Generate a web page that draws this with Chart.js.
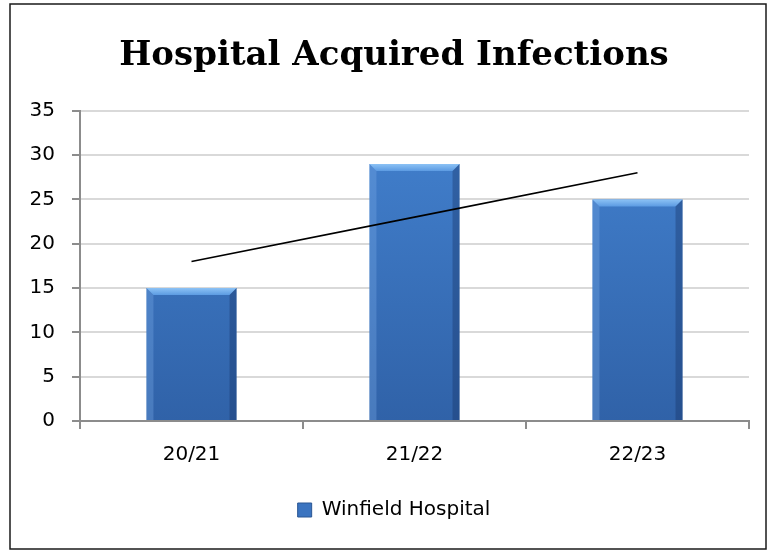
<!DOCTYPE html>
<html>
<head>
<meta charset="utf-8">
<title>Hospital Acquired Infections</title>
<script src="https://cdn.jsdelivr.net/npm/chart.js@4.4.1/dist/chart.umd.min.js"></script>
<style>
  html, body { margin: 0; padding: 0; background: #ffffff; }
  #wrap { width: 768px; height: 551px; }
</style>
</head>
<body>
<div id="wrap"><canvas id="chart" width="768" height="551"></canvas></div>
<script>
// Yearly counts of hospital acquired infections
const categories = ['20/21', '21/22', '22/23'];
const infections = [15, 29, 25];
// Linear trend through the yearly counts
const trendline = [18, 23, 28];
const yTicks = [0, 5, 10, 15, 20, 25, 30, 35];
const seriesName = 'Winfield Hospital';

const AXIS_GREY = '#8c8c8c';
const GRID_GREY = '#d9d9d9';
const TICK_FONT = { family: 'DejaVu Sans', size: 20 };

// Vertical blue gradient shared by all bars
function barFill(context) {
  const { chart } = context;
  const area = chart.chartArea;
  if (!area) return '#3a72bf';
  const g = chart.ctx.createLinearGradient(0, area.top, 0, area.bottom);
  g.addColorStop(0, '#4382d0');
  g.addColorStop(1, '#3062a8');
  return g;
}

// Bevelled edges on each bar: light top facet, lit left edge, shaded right edge
const bevelPlugin = {
  id: 'bevel',
  afterDatasetDraw(chart, args) {
    if (args.meta.type !== 'bar') return;
    const ctx = chart.ctx;
    ctx.save();
    args.meta.data.forEach(bar => {
      const { x, y, base, width } = bar.getProps(['x', 'y', 'base', 'width'], true);
      const l = x - width / 2, r = x + width / 2, t = y, b = base;
      const s = 7;
      // top facet
      const tg = ctx.createLinearGradient(0, t, 0, t + s);
      tg.addColorStop(0, '#8cc2f5');
      tg.addColorStop(1, '#5c9be2');
      ctx.fillStyle = tg;
      ctx.beginPath();
      ctx.moveTo(l, t); ctx.lineTo(r, t); ctx.lineTo(r - s, t + s); ctx.lineTo(l + s, t + s);
      ctx.closePath(); ctx.fill();
      // left facet
      ctx.fillStyle = 'rgba(120,170,230,0.35)';
      ctx.beginPath();
      ctx.moveTo(l, t); ctx.lineTo(l + s, t + s); ctx.lineTo(l + s, b); ctx.lineTo(l, b);
      ctx.closePath(); ctx.fill();
      // right facet
      ctx.fillStyle = 'rgba(20,45,95,0.35)';
      ctx.beginPath();
      ctx.moveTo(r, t); ctx.lineTo(r - s, t + s); ctx.lineTo(r - s, b); ctx.lineTo(r, b);
      ctx.closePath(); ctx.fill();
    });
    ctx.restore();
  }
};

// Centre the title and legend over the span from x=39 to the plot's right edge
const centreBlocksPlugin = {
  id: 'centreBlocks',
  afterLayout(chart) {
    if (chart.titleBlock) chart.titleBlock.left = 39;
    if (chart.legend) chart.legend.left = 39;
  }
};

// Thin frame around the whole chart
const framePlugin = {
  id: 'frame',
  afterDraw(chart) {
    const ctx = chart.ctx;
    ctx.save();
    ctx.strokeStyle = '#1a1a1a';
    ctx.lineWidth = 1.5;
    ctx.strokeRect(10, 4, 756, 545);
    ctx.restore();
  }
};

new Chart(document.getElementById('chart'), {
  data: {
    labels: categories,
    datasets: [
      {
        type: 'line',
        label: 'Linear trend',
        data: trendline,
        borderColor: '#000000',
        borderWidth: 1.6,
        pointRadius: 0,
        fill: false,
        tension: 0,
        order: 0
      },
      {
        type: 'bar',
        label: seriesName,
        data: infections,
        backgroundColor: barFill,
        borderWidth: 0,
        barPercentage: 0.404,
        categoryPercentage: 1.0,
        order: 1
      }
    ]
  },
  options: {
    responsive: false,
    devicePixelRatio: 1,
    animation: false,
    layout: { padding: { left: 10, right: 19, top: 0, bottom: 21 } },
    plugins: {
      title: {
        display: true,
        text: 'Hospital Acquired Infections',
        color: '#000000',
        font: { family: 'DejaVu Serif', size: 34, weight: 'bold', lineHeight: 1.2 },
        padding: { top: 36, bottom: 34 }
      },
      legend: {
        display: true,
        position: 'bottom',
        labels: {
          color: '#000000',
          font: TICK_FONT,
          boxWidth: 14,
          boxHeight: 14,
          padding: 10,
          generateLabels: () => [{
            text: seriesName,
            fillStyle: '#3b74c0',
            strokeStyle: '#2a5694',
            lineWidth: 1,
            datasetIndex: 1,
            hidden: false
          }]
        }
      },
      tooltip: { enabled: false }
    },
    scales: {
      x: {
        offset: true,
        grid: {
          offset: true,
          drawOnChartArea: false,
          color: AXIS_GREY,
          lineWidth: 2,
          tickLength: 8
        },
        border: { color: AXIS_GREY, width: 2 },
        ticks: { color: '#000000', font: TICK_FONT, padding: 14 },
        afterFit: s => { s.height = 69; }
      },
      y: {
        min: 0,
        max: 35,
        grid: {
          color: GRID_GREY,
          lineWidth: 2,
          tickColor: AXIS_GREY,
          tickLength: 8
        },
        border: { color: AXIS_GREY, width: 2 },
        ticks: { color: '#000000', font: TICK_FONT, padding: 17 },
        afterBuildTicks: s => { s.ticks = yTicks.map(v => ({ value: v })); },
        afterFit: s => { s.width = 70; }
      }
    }
  },
  plugins: [bevelPlugin, centreBlocksPlugin, framePlugin]
});
</script>
</body>
</html>
